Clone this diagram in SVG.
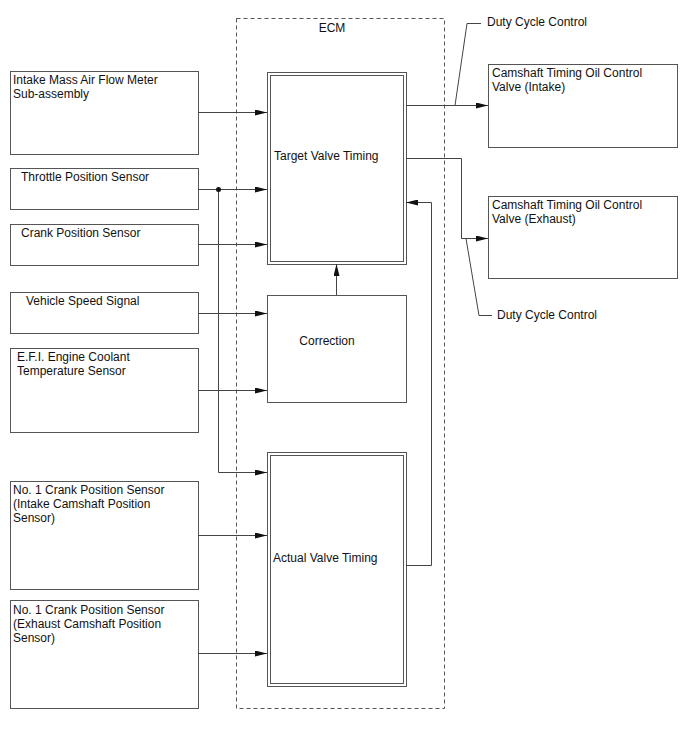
<svg xmlns="http://www.w3.org/2000/svg" width="688" height="755" viewBox="0 0 688 755">
<style>
.box{fill:#fff;stroke:#555;stroke-width:1}
.ln{fill:none;stroke:#444;stroke-width:1}
.ecm{fill:none;stroke:#555;stroke-width:1;stroke-dasharray:4,3}
text{font-family:"Liberation Sans",Arial,sans-serif;font-size:12px;fill:#111}
</style>
<defs>
<marker id="ah" markerWidth="12" markerHeight="6" refX="12" refY="3" orient="auto" markerUnits="userSpaceOnUse">
<path d="M0,0 L12,3 L0,6 Z" fill="#111"/>
</marker>
</defs>
<rect width="688" height="755" fill="#fff"/>
<g id="ecm">
<rect class="ecm" x="236.5" y="18.5" width="208" height="690"/>
<text x="332" y="32" text-anchor="middle">ECM</text>
</g>
<g id="target">
<rect class="box" x="267.5" y="72.5" width="139" height="192"/>
<rect class="box" x="270.5" y="75.5" width="133" height="186"/>
<text x="274" y="160">Target Valve Timing</text>
</g>
<g id="correction">
<rect class="box" x="267.5" y="295.5" width="139" height="107"/>
<text x="327" y="345" text-anchor="middle">Correction</text>
</g>
<g id="actual">
<rect class="box" x="267.5" y="452.5" width="139" height="234"/>
<rect class="box" x="270.5" y="455.5" width="133" height="228"/>
<text x="273" y="562">Actual Valve Timing</text>
</g>
<g id="maf">
<rect class="box" x="10.5" y="71.5" width="188" height="83"/>
<text x="13" y="84">Intake Mass Air Flow Meter</text>
<text x="13" y="98">Sub-assembly</text>
</g>
<g id="tps">
<rect class="box" x="10.5" y="168.5" width="188" height="41"/>
<text x="21" y="181">Throttle Position Sensor</text>
</g>
<g id="cps">
<rect class="box" x="10.5" y="224.5" width="188" height="41"/>
<text x="21" y="237">Crank Position Sensor</text>
</g>
<g id="vss">
<rect class="box" x="10.5" y="292.5" width="188" height="41"/>
<text x="26" y="305">Vehicle Speed Signal</text>
</g>
<g id="ect">
<rect class="box" x="10.5" y="348.5" width="188" height="84"/>
<text x="17" y="361">E.F.I. Engine Coolant</text>
<text x="17" y="375">Temperature Sensor</text>
</g>
<g id="cam-in">
<rect class="box" x="10.5" y="481.5" width="188" height="108"/>
<text x="13" y="494">No. 1 Crank Position Sensor</text>
<text x="13" y="508">(Intake Camshaft Position</text>
<text x="13" y="522">Sensor)</text>
</g>
<g id="cam-ex">
<rect class="box" x="10.5" y="600.5" width="188" height="108"/>
<text x="13" y="614">No. 1 Crank Position Sensor</text>
<text x="13" y="628">(Exhaust Camshaft Position</text>
<text x="13" y="642">Sensor)</text>
</g>
<g id="ocv-in">
<rect class="box" x="488.5" y="64.5" width="189" height="83"/>
<text x="492" y="77">Camshaft Timing Oil Control</text>
<text x="492" y="91">Valve (Intake)</text>
</g>
<g id="ocv-ex">
<rect class="box" x="488.5" y="196.5" width="189" height="82"/>
<text x="492" y="209">Camshaft Timing Oil Control</text>
<text x="492" y="223">Valve (Exhaust)</text>
</g>
<g id="labels">
<text x="487" y="26">Duty Cycle Control</text>
<text x="497" y="319">Duty Cycle Control</text>
</g>
<g id="connectors">
<path class="ln" d="M198,112.5 H267" marker-end="url(#ah)"/>
<path class="ln" d="M198,189.5 H267" marker-end="url(#ah)"/>
<path class="ln" d="M198,244.5 H267" marker-end="url(#ah)"/>
<path class="ln" d="M218.5,189.5 V472.5 H267" marker-end="url(#ah)"/>
<circle cx="218.5" cy="189.5" r="2.5" fill="#111"/>
<path class="ln" d="M198,313.5 H267" marker-end="url(#ah)"/>
<path class="ln" d="M198,390.5 H267" marker-end="url(#ah)"/>
<path class="ln" d="M198,535.5 H267" marker-end="url(#ah)"/>
<path class="ln" d="M198,653.5 H267" marker-end="url(#ah)"/>
<path class="ln" d="M336.5,295 V264" marker-end="url(#ah)"/>
<path class="ln" d="M406,565.5 H431.5 V202.5 H406" marker-end="url(#ah)"/>
<path class="ln" d="M406,105.5 H488" marker-end="url(#ah)"/>
<path class="ln" d="M406,158.5 H461.5 V238.5 H488" marker-end="url(#ah)"/>
<path class="ln" d="M455,105.5 L467,23.5 H481"/>
<path class="ln" d="M466,238.5 L479,315.5 H492"/>
</g>
</svg>
